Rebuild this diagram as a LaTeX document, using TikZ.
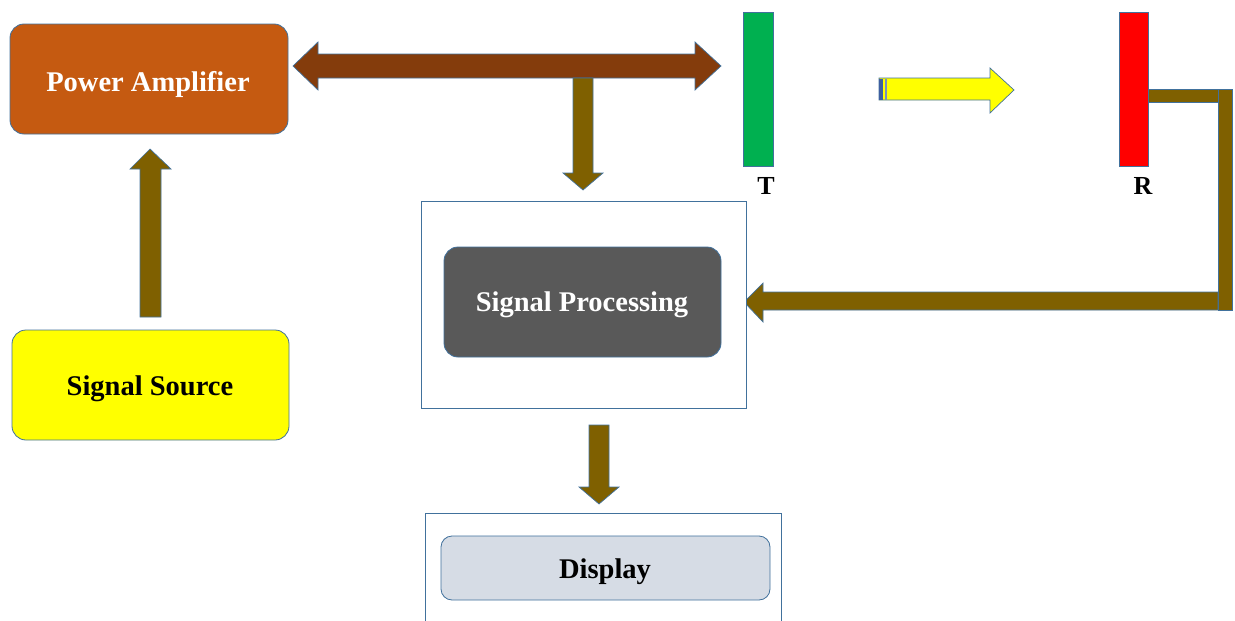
\documentclass[tikz,border=0pt]{standalone}
\usepackage{fontspec}
\setmainfont{Liberation Serif}
\definecolor{bordc}{HTML}{41719C}
\definecolor{pacol}{HTML}{C55A11}
\definecolor{dbrown}{HTML}{843C0C}
\definecolor{olive}{HTML}{7F6000}
\definecolor{tgreen}{HTML}{00B050}
\definecolor{spgrey}{HTML}{595959}
\definecolor{dispcol}{HTML}{D6DCE5}
\definecolor{stripe}{HTML}{3E5FA0}
\definecolor{yel}{HTML}{FFFF00}
\definecolor{rred}{HTML}{FF0000}
\begin{document}
\begin{tikzpicture}[x=1pt,y=-1pt,
  rbox/.style={draw=bordc,line width=0.8pt,rounded corners=14pt},
  txt/.style={font=\fontsize{28.5}{32}\selectfont\bfseries},
  outbox/.style={draw=bordc,line width=0.8pt,fill=white},
  barr/.style={draw=bordc,line width=0.7pt,fill=olive},
  lbl/.style={font=\fontsize{26}{30}\selectfont\bfseries}]
\useasboundingbox (0,0) rectangle (1235,621);
% Power amplifier
\draw[rbox,fill=pacol] (10,24) rectangle (288,134);
\node[txt,text=white] (pa) at (148,84) {Power Amplifier};
% Signal source
\draw[rbox,fill=yel] (12,330) rectangle (289,440);
\node[txt] (ss) at (150,389) {Signal Source};
% up arrow
\draw[barr] (140,317) -- (140,169) -- (130,169) -- (150,149) -- (171,169) -- (161,169) -- (161,317) -- cycle;
% double arrow
\draw[line width=0.7pt,draw=bordc,fill=dbrown] (293,66) -- (318,42) -- (318,54) -- (695,54) -- (695,42) -- (721,66) -- (695,90) -- (695,78) -- (318,78) -- (318,90) -- cycle;
% down arrow from shaft
\draw[barr] (573,78) -- (573,173) -- (563,173) -- (583,190) -- (603,173) -- (593,173) -- (593,78) -- cycle;
% T bar
\draw[draw=bordc,line width=0.7pt,fill=tgreen] (743,12) rectangle (773,166);
\node[lbl] (T) at (766,186) {T};
% yellow arrow
\draw[draw=bordc,line width=0.7pt,fill=yel] (879,78) -- (990,78) -- (990,68) -- (1014,90) -- (990,113) -- (990,100) -- (879,100) -- cycle;
\fill[stripe] (879,78.5) rectangle (883,99.5);
\fill[stripe!70] (885,78.5) rectangle (887,99.5);
% R bar
\draw[draw=bordc,line width=0.7pt,fill=rred] (1119,12) rectangle (1148,166);
\node[lbl] (R) at (1143,186) {R};
% feedback connector
\draw[barr] (1148,89) rectangle (1230,102);
\draw[barr] (1218,89) rectangle (1232,310);
\draw[barr] (1218,292) -- (763,292) -- (763,283) -- (744,302) -- (763,322) -- (763,310) -- (1218,310) -- cycle;
% Signal processing
\draw[outbox] (421,201) rectangle (746,408);
\draw[rbox,fill=spgrey] (444,247) rectangle (721,357);
\node[txt,text=white] (sp) at (582,305) {Signal Processing};
% down arrow to display
\draw[barr] (589,425) -- (589,487) -- (579,487) -- (599,504) -- (619,487) -- (609,487) -- (609,425) -- cycle;
% Display
\draw[outbox] (425,630) -- (425,513) -- (781,513) -- (781,630);
\draw[rbox,rounded corners=11pt,fill=dispcol] (441,536) rectangle (770,600);
\node[txt] (disp) at (605,572) {Display};
\end{tikzpicture}
\end{document}
